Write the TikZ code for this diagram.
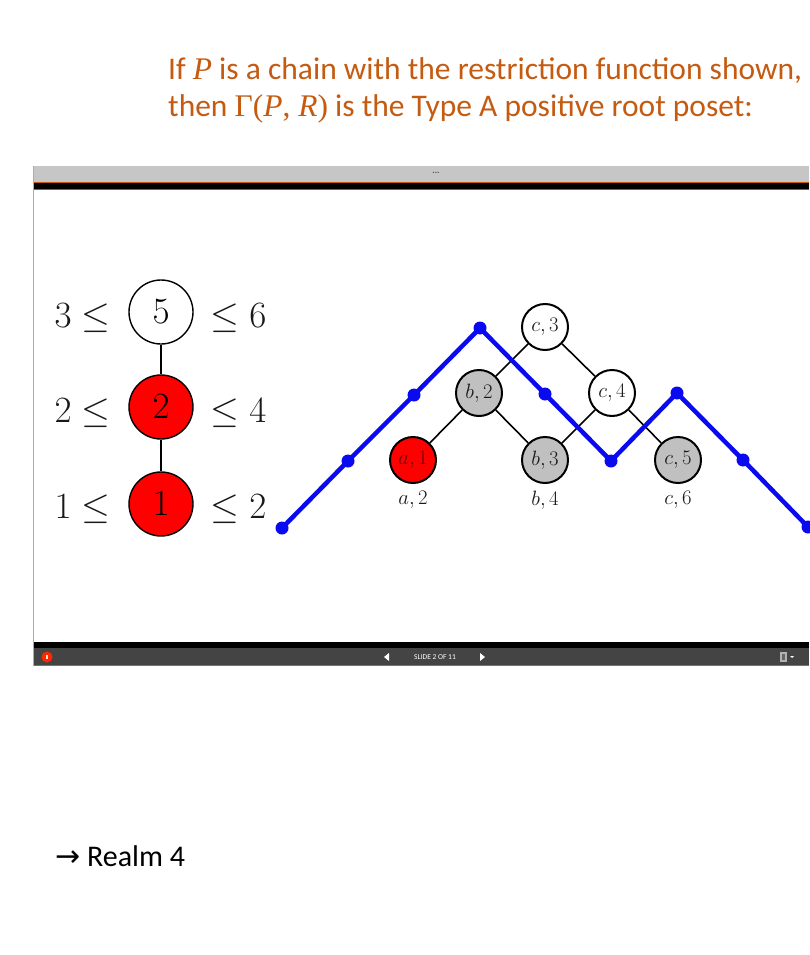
\documentclass[tikz,border=0pt]{standalone}
\usepackage[no-math]{fontspec}
\setmainfont{Carlito}
\newfontfamily\serifit{Liberation Serif}
\newfontfamily\dejavu{DejaVu Sans}
\newcommand{\chaintxt}[1]{\scalebox{1.49}{\Huge $#1$}}
\newcommand{\postxt}[1]{{\huge $#1$}}
\definecolor{titleorange}{RGB}{197,90,17}
\definecolor{graybar}{RGB}{198,198,198}
\definecolor{darkbar}{RGB}{68,68,68}
\definecolor{frameorange}{RGB}{240,150,120}
\definecolor{nodegray}{RGB}{192,192,192}
\definecolor{poserblue}{RGB}{10,10,240}
\tikzset{
  chainnode/.style={circle, draw=black, line width=1.4pt, minimum size=64pt, inner sep=0pt},
  chainlbl/.style={inner sep=0pt, text=black!90},
  posnode/.style={circle, draw=black, line width=2pt, minimum size=46pt, inner sep=0pt, text=black!90},
  poslbl/.style={inner sep=0pt, text=black!90},
  posedge/.style={line width=1.6pt, black},
  bluedot/.style={circle, fill=poserblue, minimum size=13pt, inner sep=0pt},
  blueline/.style={line width=4.5pt, poserblue, line join=round},
  titletxt/.style={inner sep=0pt, anchor=base west, text=titleorange, font=\fontsize{31.5}{36}\selectfont},
}
\begin{document}
\begin{tikzpicture}[x=1pt,y=-1pt]
\useasboundingbox (0,0) rectangle (809,955);
\fill[white] (0,0) rectangle (809,955);

% title
\node[titletxt] (t1) at (168,80) {If {\serifit\itshape P} is a chain with the restriction function shown,};
\node[titletxt] (t2) at (168,117) {then {\serifit Γ(\textit{P}, \textit{R})} is the Type A positive root poset:};

% slide window
\fill[graybar] (33,166) rectangle (809,182);
\fill[black] (33,182) rectangle (809,189);
\fill[black!60] (33,189) rectangle (809,190);
\draw[titleorange, line width=0.6pt] (33,182) -- (809,182);
\node[inner sep=0pt, font=\fontsize{9}{9}\selectfont\bfseries, text=black!70] (dots) at (436,173) {...};
\fill[black] (33,642) rectangle (809,648);
\fill[darkbar] (33,648) rectangle (809,665);
\draw[titleorange, line width=1pt] (33,665.5) -- (809,665.5);
\draw[frameorange, line width=1pt] (33.5,166) -- (33.5,666);
\node[inner sep=0pt, text=white, font=\fontsize{7.5}{8}\selectfont] (slide) at (435,657) {SLIDE 2 OF 11};
\fill[white] (389,653) -- (389,661) -- (384,657) -- cycle;
\fill[white] (480,653) -- (480,661) -- (485,657) -- cycle;
\fill[red!70!orange] (47,657) circle (5.5);
\fill[white!80!orange] (46,655) rectangle (48,659);
\fill[black!30] (780,652) rectangle (787,662);
\fill[black!60] (782,654) rectangle (785,660);
\fill[white] (790,656) -- (794,656) -- (792,658) -- cycle;

% chain
\node[chainnode, fill=white] (n5) at (161,312) {\chaintxt{5}};
\node[chainnode, fill=red] (n2) at (161,407) {\chaintxt{2}};
\node[chainnode, fill=red] (n1) at (161,504) {\chaintxt{1}};
\draw[line width=1.1pt] (n5) -- (n2);
\draw[line width=1.1pt] (n2) -- (n1);
\node[chainlbl, anchor=base east] (l5) at (111,327) {\chaintxt{3\leq}};
\node[chainlbl, anchor=base east] (l2) at (111,422) {\chaintxt{2\leq}};
\node[chainlbl, anchor=base east] (l1) at (111,518) {\chaintxt{1\leq}};
\node[chainlbl, anchor=base west] (r5) at (210,327) {\chaintxt{\leq 6}};
\node[chainlbl, anchor=base west] (r2) at (210,422) {\chaintxt{\leq 4}};
\node[chainlbl, anchor=base west] (r1) at (210,518) {\chaintxt{\leq 2}};

% poset
\node[posnode, fill=red, text=red!40!black] (a1) at (413,460) {\postxt{a,1}};
\node[posnode, fill=nodegray] (b2) at (479,393) {\postxt{b,2}};
\node[posnode, fill=white] (c3) at (545,327) {\postxt{c,3}};
\node[posnode, fill=nodegray] (b3) at (545,460) {\postxt{b,3}};
\node[posnode, fill=white] (c4) at (612,393) {\postxt{c,4}};
\node[posnode, fill=nodegray] (c5) at (678,460) {\postxt{c,5}};
\node[poslbl] (a2) at (413,500) {\postxt{a,2}};
\node[poslbl] (b4) at (545,500) {\postxt{b,4}};
\node[poslbl] (c6) at (678,500) {\postxt{c,6}};
\draw[posedge] (a1) -- (b2);
\draw[posedge] (b2) -- (c3);
\draw[posedge] (b2) -- (b3);
\draw[posedge] (c3) -- (c4);
\draw[posedge] (c4) -- (b3);
\draw[posedge] (c4) -- (c5);

% blue lattice path
\node[bluedot] (d0) at (282,528) {};
\node[bluedot] (d1) at (348,461) {};
\node[bluedot] (d2) at (414,395) {};
\node[bluedot] (d3) at (480,328) {};
\node[bluedot] (d4) at (545,394) {};
\node[bluedot] (d5) at (611,461) {};
\node[bluedot] (d6) at (677,393) {};
\node[bluedot] (d7) at (743,460) {};
\node[bluedot] (d8) at (808,527) {};
\draw[blueline] (d0.center) -- (d1.center) -- (d2.center) -- (d3.center) -- (d4.center) -- (d5.center) -- (d6.center) -- (d7.center) -- (d8.center);

% footer text
\node[inner sep=0pt, anchor=base west, font=\fontsize{30}{32}\selectfont] (realm) at (55,866) {{\dejavu →} Realm 4};
\end{tikzpicture}
\end{document}
